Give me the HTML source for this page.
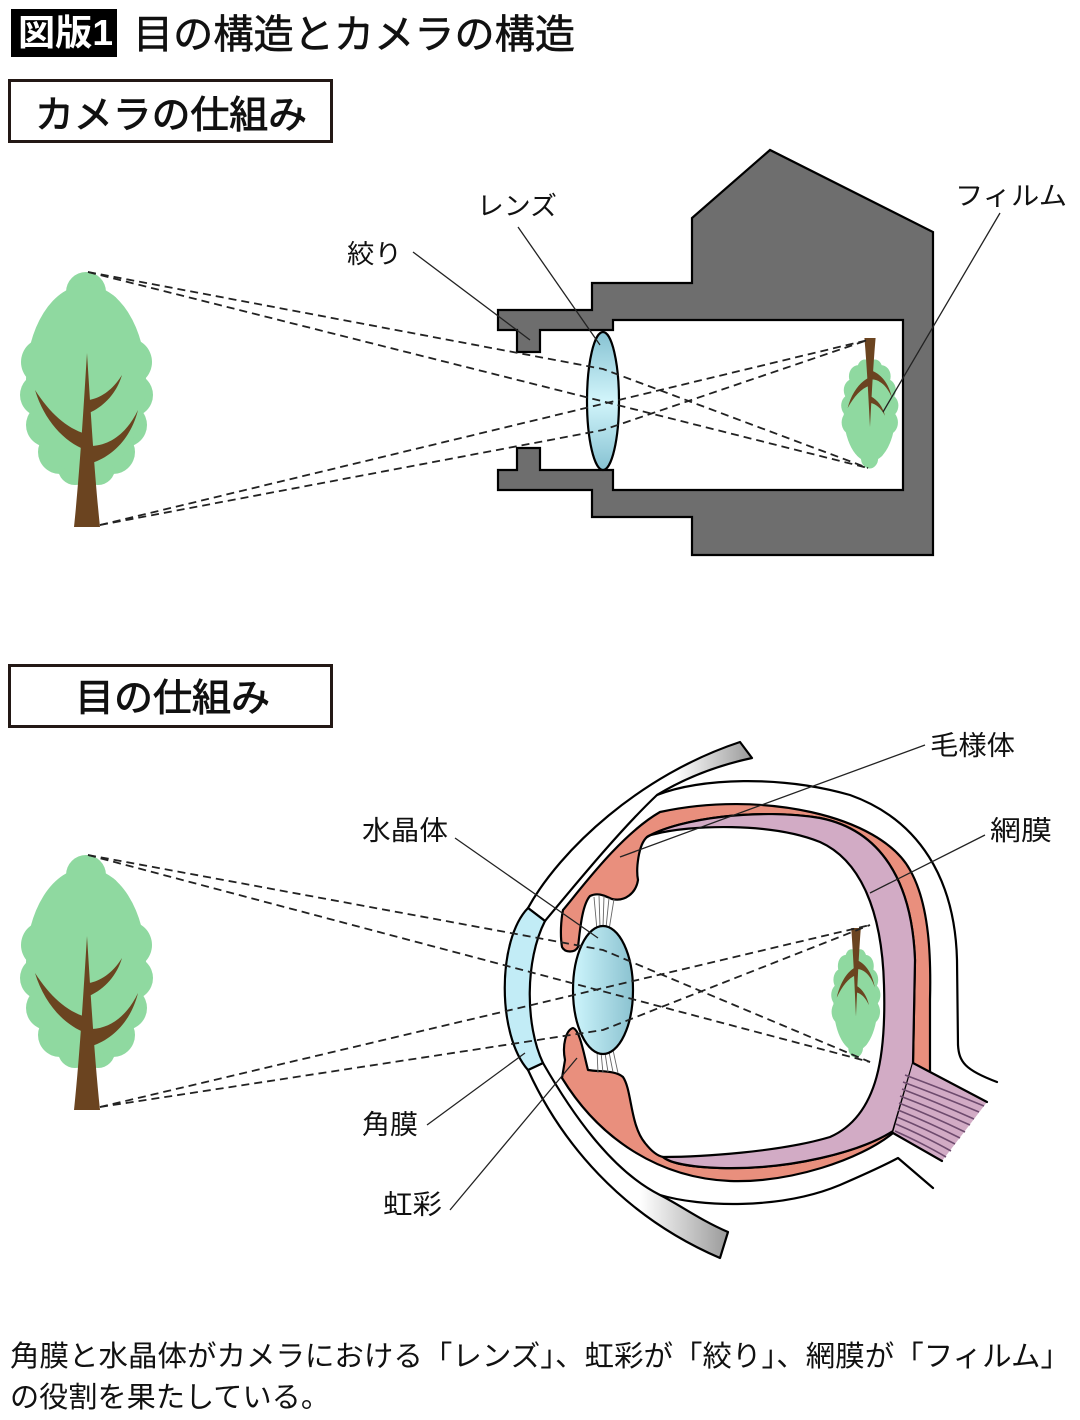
<!DOCTYPE html>
<html><head><meta charset="utf-8"><style>
html,body{margin:0;padding:0;background:#fff;}
svg{display:block;}
text{font-family:"Liberation Sans","Noto Sans CJK JP",sans-serif;fill:#111;}
</style></head><body>
<svg width="1080" height="1420" viewBox="0 0 1080 1420" xmlns="http://www.w3.org/2000/svg">
<defs>
<linearGradient id="lensC" x1="0" y1="0" x2="0" y2="1"><stop offset="0" stop-color="#86c2d2"/><stop offset="0.5" stop-color="#d2f5fb"/><stop offset="1" stop-color="#86c2d2"/></linearGradient>
<linearGradient id="lensE" x1="0" y1="0" x2="1" y2="0"><stop offset="0" stop-color="#cdf5fc"/><stop offset="1" stop-color="#8bc2d0"/></linearGradient>
<linearGradient id="lidU" gradientUnits="userSpaceOnUse" x1="675" y1="0" x2="752" y2="0"><stop offset="0" stop-color="#ffffff"/><stop offset="1" stop-color="#9a9a9a"/></linearGradient>
<linearGradient id="lidL" gradientUnits="userSpaceOnUse" x1="640" y1="0" x2="728" y2="0"><stop offset="0" stop-color="#ffffff"/><stop offset="1" stop-color="#9a9a9a"/></linearGradient>
<g id="tree">
  <g fill="#8fd9a0">
    <circle cx="86" cy="292" r="20"/>
    <circle cx="70" cy="310" r="18"/><circle cx="103" cy="310" r="18"/>
    <circle cx="60" cy="335" r="22"/><circle cx="112" cy="335" r="22"/>
    <circle cx="45" cy="362" r="24"/><circle cx="128" cy="362" r="24"/>
    <circle cx="42" cy="395" r="22"/><circle cx="131" cy="395" r="22"/>
    <circle cx="48" cy="425" r="22"/><circle cx="125" cy="425" r="22"/>
    <circle cx="60" cy="452" r="22"/><circle cx="113" cy="452" r="22"/>
    <circle cx="75" cy="468" r="17"/><circle cx="98" cy="468" r="17"/>
    <ellipse cx="86" cy="380" rx="60" ry="95"/>
  </g>
  <g fill="#6b4420">
    <path d="M74,527 C80,470 84,400 87,353 C90,400 94,470 100,527 Z"/>
    <path d="M86,450 C64,442 44,420 35,390 C50,413 66,428 86,434 Z"/>
    <path d="M92,463 C113,456 131,438 138,410 C128,431 112,445 92,446 Z"/>
    <path d="M89,413 C105,406 117,392 122,375 C112,391 100,398 89,400 Z"/>
  </g>
</g>
</defs>

<!-- Header -->
<rect x="11" y="9" width="106" height="48" fill="#000"/>
<text x="18" y="45" font-size="36" font-weight="700" style="fill:#fff" textLength="95" lengthAdjust="spacingAndGlyphs">図版1</text>
<text x="133" y="48" font-size="40" font-weight="400" stroke="#111" stroke-width="0.6" textLength="442" lengthAdjust="spacingAndGlyphs">目の構造とカメラの構造</text>

<!-- Camera section box -->
<rect x="9.5" y="80.5" width="322" height="61" fill="none" stroke="#231815" stroke-width="3"/>
<text x="35" y="128" font-size="38" font-weight="400" stroke="#111" stroke-width="0.9" textLength="272" lengthAdjust="spacingAndGlyphs">カメラの仕組み</text>

<!-- Camera left tree -->
<use href="#tree"/>

<!-- Camera body -->
<path d="M498,310 L592,310 L592,283 L692,283 L692,218 L770,150 L933,232 L933,555 L692,555 L692,517 L592,517 L592,490 L498,490 L498,470 L517,470 L517,448 L540,448 L540,470 L613,470 L613,490 L903,490 L903,320 L613,320 L613,330 L540,330 L540,352 L517,352 L517,330 L498,330 Z" fill="#6e6e6e" stroke="#000" stroke-width="2.2" stroke-linejoin="miter"/>
<!-- film tree -->
<use href="#tree" transform="translate(870,468) scale(0.43,-0.512) translate(-87,-273)"/>
<!-- camera lens -->
<ellipse cx="603" cy="401" rx="16" ry="69" fill="url(#lensC)" stroke="#000" stroke-width="2.2"/>

<!-- camera rays -->
<g fill="none" stroke="#222" stroke-width="1.8" stroke-dasharray="8 5">
  <path d="M88,272 L603,369 L868,468"/>
  <path d="M88,272 L868,468"/>
  <path d="M100,525 L868,340"/>
  <path d="M100,525 L603,430 L868,340"/>
</g>

<!-- camera labels -->
<g stroke="#222" stroke-width="1.3">
  <line x1="413" y1="252" x2="530" y2="340"/>
  <line x1="518" y1="227" x2="600" y2="345"/>
  <line x1="1000" y1="213" x2="883" y2="412"/>
</g>
<text x="477" y="215" font-size="26" textLength="80" lengthAdjust="spacingAndGlyphs">レンズ</text>
<text x="347" y="263" font-size="26" textLength="55" lengthAdjust="spacingAndGlyphs">絞り</text>
<text x="955" y="205" font-size="26" textLength="112" lengthAdjust="spacingAndGlyphs">フィルム</text>

<!-- Eye section box -->
<rect x="9.5" y="665.5" width="322" height="61" fill="none" stroke="#231815" stroke-width="3"/>
<text x="75" y="711" font-size="38" font-weight="400" stroke="#111" stroke-width="0.9" textLength="195" lengthAdjust="spacingAndGlyphs">目の仕組み</text>

<!-- Eye left tree -->
<use href="#tree" transform="translate(0,583)"/>

<!-- Eye drawing -->
<g stroke="#000" stroke-width="2.2" stroke-linejoin="round" stroke-linecap="round">
  <!-- sclera outer top/right -->
  <path d="M657,795 C700,778 780,775 850,795 C920,820 955,880 957,960 L958,1045 C959,1062 965,1070 997,1082" fill="none"/>
  <!-- sclera bottom line -->
  <path d="M660,1195 C700,1207 780,1210 840,1185 C870,1172 885,1165 898,1158 L933,1188" fill="none"/>
  <!-- upper eyelid -->
  <path d="M528,908 C560,850 640,775 740,742 L752,758 C715,766 685,778 657,795 C620,830 575,885 545,921 Z" fill="url(#lidU)"/>
  <!-- lower eyelid -->
  <path d="M528,1070 C560,1140 620,1215 720,1258 L728,1232 C700,1220 680,1205 660,1195 C610,1170 570,1110 543,1063 Z" fill="url(#lidL)"/>
  <!-- cornea -->
  <path d="M528,908 C497,940 497,1035 528,1070 L543,1063 C525,1025 525,960 545,921 Z" fill="#c2ecf6"/>
  <!-- choroid / ciliary / iris -->
  <path d="M563,910 C580,890 620,835 660,812 C760,790 880,815 910,870 C930,905 931,960 930,1000 L930,1072 L893,1133 C860,1160 790,1183 730,1181 C660,1178 600,1140 562,1078 L565,1060 C562,1045 566,1030 573,1028 C580,1030 584,1055 588,1070 C600,1072 615,1070 623,1077 C632,1090 630,1125 645,1143 C652,1152 658,1156 663,1157 C670,1163 690,1167 720,1168 C790,1170 860,1152 893,1131 L913,1063 L915,960 C912,880 880,830 820,818 C760,808 680,818 647,837 C638,845 636,870 638,880 C636,893 625,902 612,899 C605,896 598,892 590,896 C582,905 580,930 578,947 C575,953 565,953 562,947 C560,935 561,920 563,910 Z" fill="#e98f7d"/>
  <!-- retina -->
  <path d="M647,837 C680,818 760,808 820,818 C880,830 912,880 915,960 L913,1063 L893,1131 C860,1152 790,1170 720,1168 C690,1167 670,1163 663,1157 C700,1157 780,1152 830,1137 C880,1115 886,1050 884,985 C882,910 860,860 820,842 C770,822 690,825 655,834 C650,835 648,836 647,837 Z" fill="#d2abc5"/>
  <!-- optic nerve -->
  <path d="M913,1063 L987,1102 L942,1161 L893,1133 Z" fill="#d2abc5" stroke="none"/>
  <line x1="913" y1="1063" x2="987" y2="1102"/>
  <line x1="893" y1="1133" x2="942" y2="1161"/>
</g>
<!-- nerve fibers -->
<g stroke="#6e4b6e" stroke-width="1.6" fill="none">
  <path d="M905,1075 Q940,1088 984,1106"/>
  <path d="M903,1082 Q938,1095 979,1112"/>
  <path d="M902,1089 Q936,1102 974,1119"/>
  <path d="M900,1096 Q934,1109 970,1125"/>
  <path d="M899,1103 Q932,1116 965,1132"/>
  <path d="M898,1110 Q930,1123 960,1138"/>
  <path d="M897,1117 Q928,1130 955,1144"/>
  <path d="M896,1124 Q926,1137 951,1151"/>
  <path d="M895,1131 Q924,1144 946,1157"/>
</g>
<!-- zonules -->
<g stroke="#666" stroke-width="0.9">
  <line x1="594" y1="897" x2="597" y2="930"/>
  <line x1="599" y1="895" x2="600" y2="927"/>
  <line x1="604" y1="896" x2="603" y2="927"/>
  <line x1="609" y1="898" x2="606" y2="928"/>
  <line x1="614" y1="899" x2="609" y2="930"/>
  <line x1="597" y1="1050" x2="598" y2="1073"/>
  <line x1="601" y1="1052" x2="603" y2="1073"/>
  <line x1="605" y1="1053" x2="608" y2="1072"/>
  <line x1="609" y1="1052" x2="613" y2="1072"/>
  <line x1="613" y1="1050" x2="618" y2="1073"/>
</g>
<!-- eye lens -->
<ellipse cx="603" cy="990" rx="30" ry="64" fill="url(#lensE)" stroke="#000" stroke-width="2.2"/>
<!-- retina image tree -->
<use href="#tree" transform="translate(856,1057) scale(0.37,-0.508) translate(-87,-273)"/>

<!-- eye rays -->
<g fill="none" stroke="#222" stroke-width="1.8" stroke-dasharray="8 5">
  <path d="M88,855 L603,950 L870,1062"/>
  <path d="M88,855 L870,1062"/>
  <path d="M100,1107 L870,925"/>
  <path d="M100,1107 L603,1030 L870,925"/>
</g>

<!-- eye labels -->
<g stroke="#222" stroke-width="1.3">
  <line x1="925" y1="745" x2="620" y2="857"/>
  <line x1="985" y1="835" x2="870" y2="893"/>
  <line x1="455" y1="838" x2="598" y2="938"/>
  <line x1="427" y1="1125" x2="525" y2="1053"/>
  <line x1="450" y1="1210" x2="577" y2="1058"/>
</g>
<text x="930" y="755" font-size="27" textLength="85" lengthAdjust="spacingAndGlyphs">毛様体</text>
<text x="990" y="840" font-size="27" textLength="62" lengthAdjust="spacingAndGlyphs">網膜</text>
<text x="362" y="840" font-size="27" textLength="86" lengthAdjust="spacingAndGlyphs">水晶体</text>
<text x="362" y="1134" font-size="27" textLength="56" lengthAdjust="spacingAndGlyphs">角膜</text>
<text x="383" y="1214" font-size="27" textLength="59" lengthAdjust="spacingAndGlyphs">虹彩</text>

<!-- caption -->
<text x="10" y="1366" font-size="29" textLength="1060" lengthAdjust="spacingAndGlyphs">角膜と水晶体がカメラにおける「レンズ」、虹彩が「絞り」、網膜が「フィルム」</text>
<text x="10" y="1407" font-size="29" textLength="320" lengthAdjust="spacingAndGlyphs">の役割を果たしている。</text>
</svg>
</body></html>
